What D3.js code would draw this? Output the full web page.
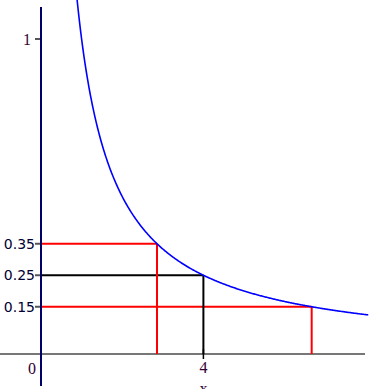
<!DOCTYPE html>
<html>
<head>
<meta charset="utf-8">
<script src="https://cdn.jsdelivr.net/npm/d3@7"></script>
<style>
  body { margin: 0; background: #fff; }
</style>
</head>
<body>
<div id="chart"></div>
<script>
// data: curve y = 1/x and the marked points
var xTicks = [4];
var yTicksSmall = [0.35, 0.25, 0.15];
var yTicksBig = [1];
var markX = [2.857, 4, 6.667];
var markY = [0.35, 0.25, 0.15];
var markColor = ["red", "black", "red"];
var curveX = [];
for (var i = 0.88; i <= 8.06; i += 0.02) curveX.push(i);

var width = 377, height = 389;

var x = d3.scaleLinear().domain([0, 8]).range([41, 365.8]);
var y = d3.scaleLinear().domain([0, 1]).range([354, 39]);

var svg = d3.select("#chart").append("svg")
  .attr("width", width)
  .attr("height", height);

// x axis line
svg.append("line")
  .attr("x1", 0).attr("x2", 365)
  .attr("y1", y(0)).attr("y2", y(0))
  .attr("stroke", "#777").attr("stroke-width", 2);

// marker lines
var marks = markX.map(function (d, i) { return {x: d, y: markY[i], c: markColor[i]}; });
svg.selectAll(".hline").data(marks).enter().append("line")
  .attr("x1", x(0)).attr("x2", function (d) { return x(d.x); })
  .attr("y1", function (d) { return y(d.y); })
  .attr("y2", function (d) { return y(d.y); })
  .attr("stroke", function (d) { return d.c; })
  .attr("stroke-width", 2);
svg.selectAll(".vline").data(marks).enter().append("line")
  .attr("x1", function (d) { return x(d.x); })
  .attr("x2", function (d) { return x(d.x); })
  .attr("y1", function (d) { return y(d.y); })
  .attr("y2", y(0))
  .attr("stroke", function (d) { return d.c; })
  .attr("stroke-width", 2);

// y ticks
svg.selectAll(".ytick").data(yTicksSmall.concat(yTicksBig)).enter().append("line")
  .attr("x1", x(0) - 6).attr("x2", x(0))
  .attr("y1", function (d) { return y(d); })
  .attr("y2", function (d) { return y(d); })
  .attr("stroke", "#555").attr("stroke-width", 2);

svg.selectAll(".ylab").data(yTicksSmall).enter().append("text")
  .attr("x", x(0) - 6)
  .attr("y", function (d) { return y(d); })
  .attr("dy", "0.35em")
  .attr("text-anchor", "end")
  .attr("font-family", "DejaVu Sans")
  .attr("font-size", 14)
  .attr("fill", "#000033")
  .text(function (d) { return d; });

svg.selectAll(".ylab1").data(yTicksBig).enter().append("text")
  .attr("x", x(0) - 10)
  .attr("y", function (d) { return y(d); })
  .attr("dy", "0.35em")
  .attr("text-anchor", "end")
  .attr("font-family", "Liberation Serif")
  .attr("font-size", 16)
  .attr("fill", "#330033")
  .text(function (d) { return d; });

// x ticks
svg.selectAll(".xtick").data(xTicks).enter().append("line")
  .attr("x1", function (d) { return x(d); })
  .attr("x2", function (d) { return x(d); })
  .attr("y1", y(0) - 5).attr("y2", y(0) + 5)
  .attr("stroke", "#000").attr("stroke-width", 1.5);

svg.selectAll(".xlab").data(xTicks).enter().append("text")
  .attr("x", function (d) { return x(d); })
  .attr("y", 373)
  .attr("text-anchor", "middle")
  .attr("font-family", "Liberation Serif")
  .attr("font-size", 16)
  .attr("fill", "#330033")
  .text(function (d) { return d; });

svg.append("text")
  .attr("x", x(0) - 9).attr("y", 374)
  .attr("text-anchor", "middle")
  .attr("font-family", "Liberation Serif")
  .attr("font-size", 16)
  .attr("fill", "#330033")
  .text("0");

svg.append("text")
  .attr("x", x(4)).attr("y", 394)
  .attr("text-anchor", "middle")
  .attr("font-family", "Liberation Serif")
  .attr("font-size", 16)
  .attr("fill", "#330033")
  .text("x");

// y axis line
svg.append("line")
  .attr("x1", x(0)).attr("x2", x(0))
  .attr("y1", 7).attr("y2", 386)
  .attr("stroke", "#000066").attr("stroke-width", 2);

// curve
var line = d3.line()
  .x(function (d) { return x(d); })
  .y(function (d) { return y(1 / d); });

svg.append("path")
  .datum(curveX)
  .attr("d", line)
  .attr("fill", "none")
  .attr("stroke", "blue")
  .attr("stroke-width", 1.6);
</script>
</body>
</html>
